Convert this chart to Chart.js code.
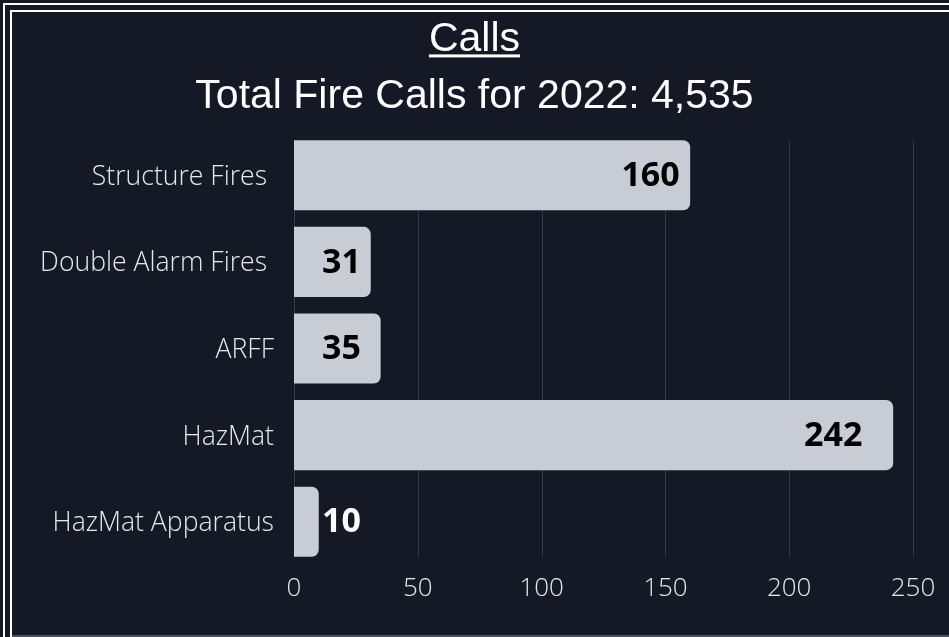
<!DOCTYPE html>
<html lang="en">
<head>
  <meta charset="UTF-8">
  <title>Calls</title>
  <script src="https://cdn.jsdelivr.net/npm/chart.js"></script>
  <style>
    html, body { margin: 0; padding: 0; background: #151926; overflow: hidden; }
    .frame { position: absolute; width: 2000px; height: 2000px; border-left: 2px solid #fff; border-top: 2px solid #fff; }
    #outer { left: 3px; top: 3px; }
    #inner { left: 10px; top: 10px; }
    #foot { position: absolute; left: 12px; top: 635px; width: 2000px; height: 2px; background: #4c505c; }
    #grafico { position: absolute; left: 0; top: 0; }
  </style>
</head>
<body>
  <div class="frame" id="outer"></div>
  <div class="frame" id="inner"></div>
  <div id="foot"></div>
  <canvas id="grafico" width="949" height="637"></canvas>

  <script>
    // datos del grafico
    const categories = ['Structure Fires ', 'Double Alarm Fires ', 'ARFF', 'HazMat', 'HazMat Apparatus'];
    const calls = [160, 31, 35, 242, 10];
    const xTicks = [0, 50, 100, 150, 200, 250];
    const titleText = 'Calls';
    const subtitleText = 'Total Fire Calls for 2022: 4,535';

    const gridColor = '#353a49';
    const titleSize = 41;
    const titlePadTop = 14.8;

    // subrayado del titulo
    const underline = {
      id: 'underline',
      afterDraw(chart) {
        const t = chart.titleBlock;
        const ctx = chart.ctx;
        ctx.save();
        ctx.font = titleSize + "px 'Liberation Sans', Arial, sans-serif";
        const w = ctx.measureText(titleText).width;
        const cx = (t.left + t.right) / 2;
        const cy = t.top + titlePadTop + titleSize * 1.2 / 2;
        ctx.fillStyle = '#ffffff';
        ctx.fillRect(cx - w / 2, cy + 15, w, 3);
        ctx.restore();
      }
    };

    // lineas verticales solo entre la primera y la ultima barra
    const gridLines = {
      id: 'gridLines',
      beforeDatasetsDraw(chart) {
        const bars = chart.getDatasetMeta(0).data;
        const top = bars[0].y - bars[0].height / 2;
        const last = bars[bars.length - 1];
        const bottom = last.y + last.height / 2;
        const ctx = chart.ctx;
        const x = chart.scales.x;
        ctx.save();
        ctx.strokeStyle = gridColor;
        ctx.lineWidth = 1;
        xTicks.forEach(v => {
          const px = Math.round(x.getPixelForValue(v)) + 0.5;
          ctx.beginPath();
          ctx.moveTo(px, top);
          ctx.lineTo(px, bottom);
          ctx.stroke();
        });
        ctx.restore();
      }
    };

    // etiquetas de valores
    const valueLabels = {
      id: 'valueLabels',
      afterDatasetsDraw(chart) {
        const ctx = chart.ctx;
        const bars = chart.getDatasetMeta(0).data;
        ctx.save();
        ctx.font = "bold 34px 'Open Sans', sans-serif";
        ctx.textBaseline = 'middle';
        ctx.textAlign = 'left';
        bars.forEach((bar, i) => {
          const txt = String(calls[i]);
          const w = ctx.measureText(txt).width;
          const len = bar.x - bar.base;
          let left = bar.base + len * 0.9 - w / 2;
          let color = '#000000';
          if (left + w > bar.x - 10) {
            left = bar.base + 28;
            if (left + w > bar.x) color = '#ffffff';
          }
          ctx.fillStyle = color;
          ctx.fillText(txt, left, bar.y + 1);
        });
        ctx.restore();
      }
    };

    const ctx = document.getElementById('grafico').getContext('2d');
    new Chart(ctx, {
      type: 'bar',
      data: {
        labels: categories,
        datasets: [{
          data: calls,
          backgroundColor: '#c8ccd5',
          borderRadius: 7,
          borderSkipped: 'start',
          barPercentage: 0.81,
          categoryPercentage: 1
        }]
      },
      plugins: [underline, gridLines, valueLabels],
      options: {
        indexAxis: 'y',
        responsive: false,
        animation: false,
        layout: { padding: { left: 36, right: 36, top: 0, bottom: 0 } },
        plugins: {
          legend: { display: false },
          tooltip: { enabled: false },
          title: {
            display: true,
            text: titleText,
            color: '#ffffff',
            font: { family: "'Liberation Sans', Arial, sans-serif", size: titleSize, weight: 'normal', lineHeight: 1.2 },
            padding: { top: titlePadTop, bottom: 8.4 }
          },
          subtitle: {
            display: true,
            text: subtitleText,
            color: '#ffffff',
            font: { family: "'Liberation Sans', Arial, sans-serif", size: titleSize, weight: 'normal', lineHeight: 1.2 },
            padding: { top: 0, bottom: 10.4 }
          }
        },
        scales: {
          x: {
            min: 0,
            max: 250,
            afterBuildTicks: s => { s.ticks = xTicks.map(v => ({ value: v })); },
            afterFit: s => { s.height = 72; },
            grid: { display: false },
            border: { display: false },
            ticks: {
              color: '#e6e7ea',
              padding: 0,
              font: { family: "'Open Sans', sans-serif", size: 26, weight: '300' }
            }
          },
          y: {
            afterFit: s => { s.width = 258; },
            grid: { display: false, drawTicks: false },
            border: { display: false },
            ticks: {
              color: '#e6e7ea',
              padding: 20,
              labelOffset: 2,
              font: { family: "'Open Sans', sans-serif", size: 26.6, weight: '300' }
            }
          }
        }
      }
    });
  </script>
</body>
</html>
